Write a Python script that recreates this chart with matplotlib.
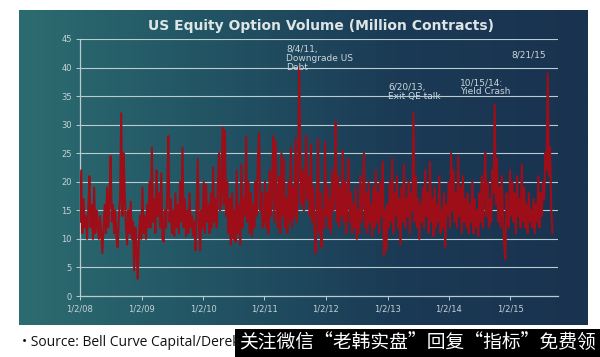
import numpy as np
import pandas as pd
import matplotlib
matplotlib.use('Agg')
import matplotlib.pyplot as plt
from matplotlib.colors import LinearSegmentedColormap

# weekly volume, million contracts
vol_2008 = [13, 22, 11, 17, 12, 14, 10, 15, 21, 12, 16, 10, 19, 11, 15, 13,
            10, 14, 11, 7.5, 12, 16, 11, 19, 12, 17, 24.5, 13, 16, 11, 15, 10,
            8.5, 14, 17, 32, 14, 25, 18, 12, 9, 15, 11, 16.5, 10, 13, 4.5, 12,
            8, 3, 10, 14]
vol_2009 = [10, 19, 11, 14, 10, 16, 12, 20, 12, 26, 13, 17, 11, 22, 14, 18,
            12, 21.5, 10, 9.5, 15, 12, 18, 28, 13, 17, 11, 15, 10.5, 18, 12, 16,
            11, 20, 13, 26, 12, 17, 10.5, 15, 11, 18, 12, 14, 10.5, 13, 8, 16,
            24, 12, 8, 15]
vol_2010 = [12, 20, 11, 19.5, 13, 16, 11, 18, 12, 22.5, 13, 17, 12, 19, 25, 15,
            18, 29.5, 16, 29, 14, 20, 11, 17, 9, 18, 10, 15, 9.5, 22, 11, 16,
            9, 23, 12, 17, 14, 28, 13, 20, 11, 18, 10.5, 16, 12, 20, 14, 24,
            28.5, 15, 18, 12]
vol_2011 = [13, 20, 12, 18, 11, 22, 14, 19, 28, 13, 27, 16, 12, 21, 11, 25,
            14, 24, 12, 17, 11, 20, 13, 26, 12, 19, 14, 27.5, 13, 18, 40, 24,
            16, 22, 15, 20, 28, 17, 21, 14, 26.5, 13, 19, 12, 7.5, 16, 27.5, 11,
            18, 8.5, 15, 12]
vol_2012 = [27, 14, 19, 12, 17, 11, 22, 15, 18, 30.5, 13, 21, 12, 19, 14, 25.5,
            13, 20, 11, 17, 24, 13, 18, 11, 16, 12, 19, 10, 15, 11, 21, 13,
            17, 25, 12, 18, 11, 20, 13, 16, 10.5, 19, 12, 22, 13, 18, 11, 20,
            14, 23.5, 7, 15]
vol_2013 = [8, 16, 12, 20, 13, 24, 11, 18, 14, 21, 12, 17, 9, 19, 13, 23,
            12, 17, 14, 20, 11, 18, 15, 32, 13, 21, 12, 17, 10, 16, 13, 19,
            12, 22, 14, 18, 11, 23.5, 13, 17, 10.5, 19, 12, 16, 13, 21, 11, 15,
            12, 18, 8.5, 16]
vol_2014 = [14, 20, 12, 25, 15, 22, 13, 18, 12, 24.5, 14, 19, 11, 21, 13, 17,
            12, 18, 11, 16, 13, 20, 11, 17, 12, 15, 10.5, 18, 13, 21, 12, 19,
            25, 14, 20, 12, 17, 13, 22, 18, 33.5, 16, 24, 13, 19, 12, 21, 14,
            9, 6.5, 18, 13]
vol_2015 = [12, 22, 14, 20, 13, 18, 11, 21, 14, 17, 12, 23, 13, 19, 12, 16,
            11, 18, 13, 15, 12, 17, 11, 16, 13, 21, 12, 18, 14, 20, 17, 25,
            22, 39, 21, 26, 15, 11]

volume = vol_2008 + vol_2009 + vol_2010 + vol_2011 + vol_2012 + vol_2013 + vol_2014 + vol_2015
dates = pd.date_range('2008-01-02', periods=len(volume), freq='7D')

tick_dates = pd.to_datetime(['2008-01-02', '2009-01-02', '2010-01-02', '2011-01-02',
                             '2012-01-02', '2013-01-02', '2014-01-02', '2015-01-02'])
tick_labels = ['1/2/08', '1/2/09', '1/2/10', '1/2/11', '1/2/12', '1/2/13', '1/2/14', '1/2/15']

W, H = 600, 357
fig = plt.figure(figsize=(6, 3.57), dpi=100)
fig.patch.set_facecolor('white')

def fx(px):
    return px / W

def fy(py):
    return 1 - py / H

# dark gradient panel behind the chart
bg = fig.add_axes([fx(19), fy(325), fx(588) - fx(19), fy(10) - fy(325)])
cmap = LinearSegmentedColormap.from_list('panel', ['#2c6c70', '#225464', '#1b3a55', '#19324f'])
grad = np.linspace(0, 1, 256).reshape(1, -1)
bg.imshow(grad, cmap=cmap, aspect='auto', extent=[0, 1, 0, 1])
bg.set_xlim(0, 1)
bg.set_ylim(0, 1)
bg.axis('off')

ax = fig.add_axes([fx(80), fy(296), fx(558) - fx(80), fy(39) - fy(296)])
ax.set_facecolor('none')
ax.plot(dates, volume, color='#9e0e18', lw=1.5, zorder=3)

grid_col = '#b9cdd1'
ax.set_ylim(0, 45)
ax.set_yticks(range(0, 46, 5))
for v in range(5, 46, 5):
    ax.axhline(v, color=grid_col, lw=0.8, zorder=1)
ax.set_xlim(pd.Timestamp('2008-01-02'), pd.Timestamp('2015-10-12'))
ax.set_xticks(tick_dates)
ax.set_xticklabels(tick_labels)
for s in ['top', 'right']:
    ax.spines[s].set_visible(False)
for s in ['left', 'bottom']:
    ax.spines[s].set_color(grid_col)
    ax.spines[s].set_linewidth(0.9)
ax.tick_params(axis='both', colors=grid_col, labelcolor='#c6d2d6', labelsize=6, length=3, width=0.7)
ax.tick_params(axis='y', pad=3)
ax.tick_params(axis='x', pad=3)

fig.text(fx(321), fy(26), 'US Equity Option Volume (Million Contracts)', ha='center', va='center',
         fontsize=10, fontweight='bold', color='#dde5e7')

ann_col = '#cdd6da'
fig.text(fx(286), fy(45), '8/4/11,\nDowngrade US\nDebt', ha='left', va='top', fontsize=6.5,
         color=ann_col, linespacing=1.0)
fig.text(fx(388), fy(83), '6/20/13,\nExit QE talk', ha='left', va='top', fontsize=6.5,
         color=ann_col, linespacing=1.0)
fig.text(fx(460), fy(78), '10/15/14:\nYield Crash', ha='left', va='top', fontsize=6.5,
         color=ann_col, linespacing=1.0)
fig.text(fx(511), fy(55), '8/21/15', ha='left', va='center', fontsize=6.5, color=ann_col)

fig.text(fx(22), fy(343), '• Source: Bell Curve Capital/Derek', ha='left', va='center',
         fontsize=10, color='#111111', family=['Open Sans', 'DejaVu Sans'])

box = fig.add_axes([fx(235), 0, 1 - fx(235), fy(329)])
box.set_facecolor('black')
box.set_xticks([])
box.set_yticks([])
for s in box.spines.values():
    s.set_visible(False)
box.text(0.5, 0.5, '关注微信\u201c老韩实盘\u201d回复\u201c指标\u201d免费领', ha='center', va='center',
         fontsize=13.5, color='white', transform=box.transAxes,
         family=['Noto Sans CJK SC', 'DejaVu Sans'])

fig.savefig('out.png', dpi=100)
